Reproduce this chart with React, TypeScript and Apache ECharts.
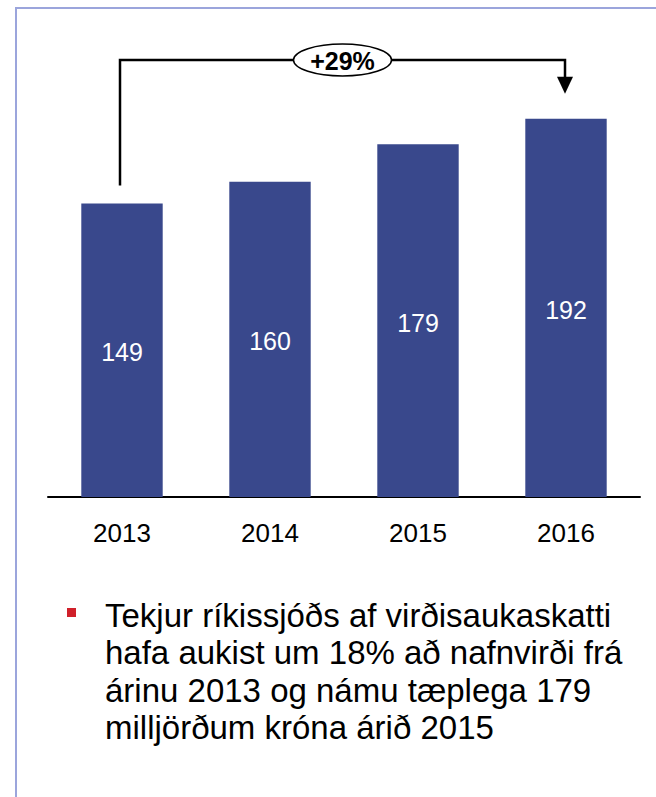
import React, { useEffect, useRef } from 'react';
import * as echarts from 'echarts';

const years = ['2013', '2014', '2015', '2016'];
const revenue = [149, 160, 179, 192];
const growthLabel = '+29%';
const noteLines = [
  'Tekjur ríkissjóðs af virðisaukaskatti',
  'hafa aukist um 18% að nafnvirði frá',
  'árinu 2013 og námu tæplega 179',
  'milljörðum króna árið 2015',
];

export default function App() {
  const ref = useRef<HTMLDivElement>(null);
  useEffect(() => {
    const chart = echarts.init(ref.current!, null, { renderer: 'svg' });
    const font = "'Liberation Sans', Arial, sans-serif";
    chart.setOption({
      animation: false,
      backgroundColor: '#ffffff',
      grid: { left: 48, right: 16, top: 103, bottom: 300 },
      xAxis: {
        type: 'category',
        data: years,
        axisLine: { lineStyle: { color: '#000', width: 2 } },
        axisTick: { show: false },
        axisLabel: { color: '#000', fontSize: 26, fontFamily: font, margin: 23 },
      },
      yAxis: { type: 'value', min: 0, max: 200, show: false },
      series: [
        {
          type: 'bar',
          data: revenue,
          barCategoryGap: '45%',
          itemStyle: { color: '#39488c' },
          label: { show: true, position: 'inside', color: '#fff', fontSize: 25, fontFamily: font, offset: [0, 2] },
        },
      ],
    });
    const p0 = chart.convertToPixel({ gridIndex: 0 }, [0, revenue[0]]) as number[];
    const p3 = chart.convertToPixel({ gridIndex: 0 }, [3, revenue[3]]) as number[];
    const x0 = p0[0] - 2, y0 = p0[1];
    const x3 = p3[0] - 1, y3 = p3[1];
    const topY = 60;
    const midX = (x0 + x3) / 2;
    chart.setOption({
      graphic: [
        { type: 'line', shape: { x1: 16, y1: 7, x2: 16, y2: 797 }, style: { stroke: '#9ba5dc', lineWidth: 2 } },
        { type: 'line', shape: { x1: 15, y1: 8, x2: 656, y2: 8 }, style: { stroke: '#9ba5dc', lineWidth: 2 } },
        {
          type: 'polyline',
          shape: { points: [[x0, y0 - 18], [x0, topY], [x3, topY], [x3, y3 - 40]] },
          style: { stroke: '#000', lineWidth: 2.5, fill: 'none' },
        },
        {
          type: 'polygon',
          shape: { points: [[x3 - 8, y3 - 42], [x3 + 8, y3 - 42], [x3, y3 - 25]] },
          style: { fill: '#000' },
        },
        {
          type: 'ellipse',
          shape: { cx: midX, cy: topY, rx: 49, ry: 16 },
          style: { fill: '#fff', stroke: '#000', lineWidth: 1.5 },
          z: 10,
        },
        {
          type: 'text',
          x: midX,
          y: topY + 1,
          z: 11,
          style: {
            text: growthLabel,
            fontSize: 25,
            fontWeight: 'bold',
            fontFamily: font,
            fill: '#000',
            align: 'center',
            verticalAlign: 'middle',
          },
        },
        { type: 'rect', shape: { x: 67, y: 608, width: 9, height: 9 }, style: { fill: '#d0202a' } },
        {
          type: 'text',
          x: 105,
          y: 597,
          style: {
            text: noteLines.join('\n'),
            fontSize: 33,
            lineHeight: 37.3,
            fontFamily: font,
            fill: '#000',
            align: 'left',
            verticalAlign: 'top',
          },
        },
      ],
    });
    return () => chart.dispose();
  }, []);
  return (
    <div
      ref={ref}
      style={{ position: 'fixed', left: 0, top: 0, width: 656, height: 797 }}
    />
  );
}
